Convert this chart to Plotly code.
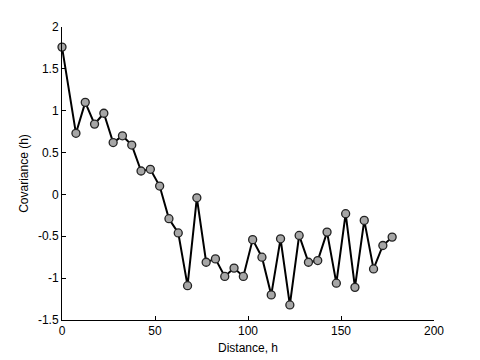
import plotly.graph_objects as go

distance = [0, 7.5, 12.5, 17.5, 22.5, 27.5, 32.5, 37.5, 42.5, 47.5, 52.5, 57.5,
            62.5, 67.5, 72.5, 77.5, 82.5, 87.5, 92.5, 97.5, 102.5, 107.5, 112.5,
            117.5, 122.5, 127.5, 132.5, 137.5, 142.5, 147.5, 152.5, 157.5, 162.5,
            167.5, 172.5, 177.5]
covariance = [1.76, 0.73, 1.10, 0.84, 0.97, 0.62, 0.70, 0.59, 0.28, 0.30, 0.10, -0.29,
              -0.46, -1.09, -0.04, -0.81, -0.77, -0.98, -0.88, -0.98, -0.54, -0.75, -1.20,
              -0.53, -1.32, -0.49, -0.81, -0.79, -0.45, -1.06, -0.23, -1.11, -0.31,
              -0.89, -0.61, -0.51]

x_ticks = [0, 50, 100, 150, 200]
y_ticks = [-1.5, -1, -0.5, 0, 0.5, 1, 1.5, 2]
y_labels = ["-1.5", "-1", "-0.5", "0", "0.5", "1", "1.5", "2"]

fig = go.Figure()
fig.add_trace(go.Scatter(
    x=distance, y=covariance, mode="lines+markers",
    line=dict(color="black", width=2),
    marker=dict(size=8, color="#a6a6a6", line=dict(color="#222222", width=1.3)),
    cliponaxis=False, showlegend=False,
))

axis_common = dict(showgrid=False, zeroline=False, showline=True, linecolor="black",
                   linewidth=1, ticks="inside", ticklen=4, tickcolor="black",
                   tickfont=dict(family="Liberation Sans, Arial", size=12, color="black"),
                   mirror=False, automargin=False)
fig.update_layout(
    width=480, height=360,
    margin=dict(l=62, r=46, t=27, b=40),
    paper_bgcolor="white", plot_bgcolor="white",
    font=dict(family="Liberation Sans, Arial", size=12, color="black"),
    xaxis=dict(range=[0, 200], tickvals=x_ticks, ticktext=[str(v) for v in x_ticks],
               title=dict(text="Distance, h", standoff=6, font=dict(size=12)), **axis_common),
    yaxis=dict(range=[-1.5, 2], tickvals=y_ticks, ticktext=y_labels,
               title=dict(text="Covariance (h)", standoff=6, font=dict(size=12)), **axis_common),
)

fig.write_html("out.html", config={"displayModeBar": False},
               post_script="document.body.style.margin='0';")
